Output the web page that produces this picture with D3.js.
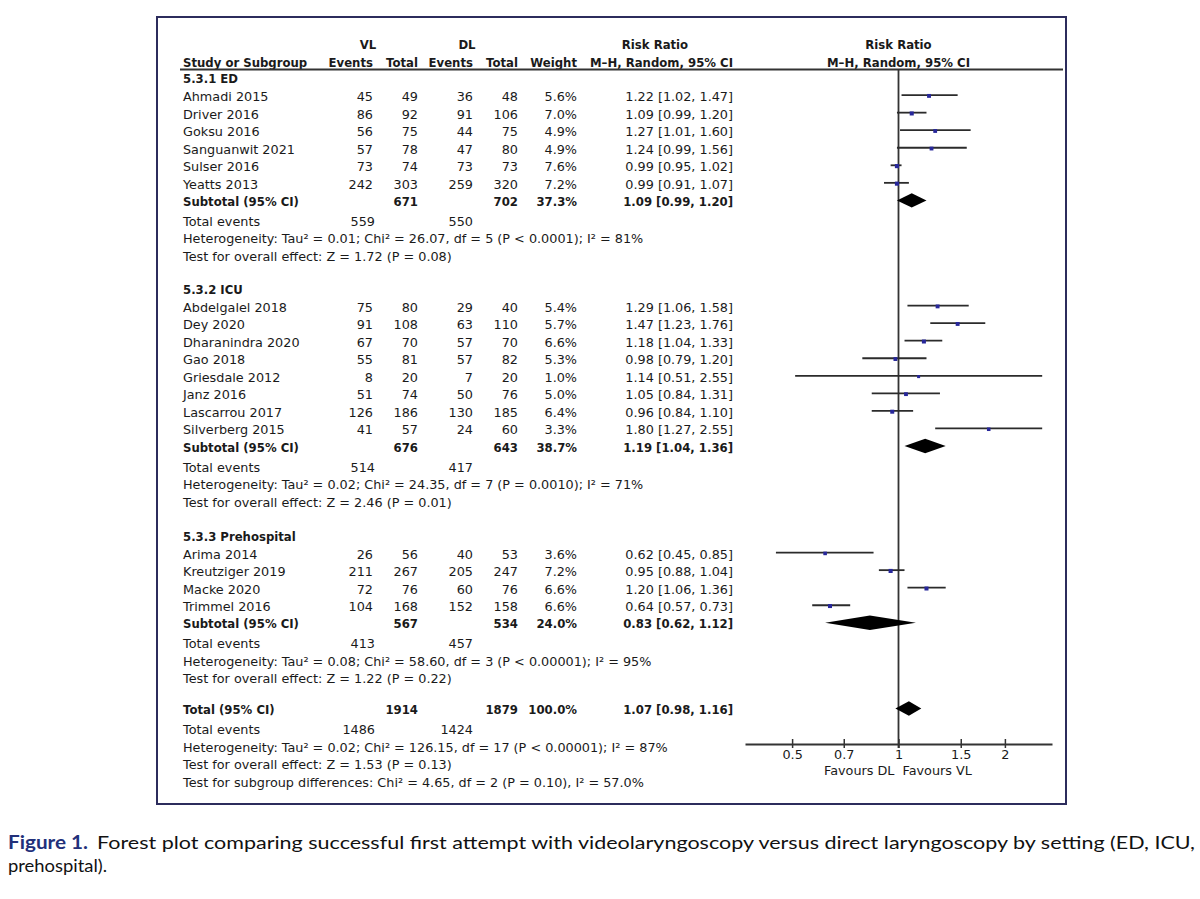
<!DOCTYPE html>
<html>
<head>
<meta charset="utf-8">
<script src="https://cdn.jsdelivr.net/npm/d3@7"></script>
<style>
  html, body { margin: 0; padding: 0; background: #fff; }
  svg { display: block; }
  .t { font-family: "DejaVu Sans", sans-serif; font-size: 12.8px; fill: #1a1a1a; }
  .b { font-weight: bold; font-size: 11.7px; }
</style>
</head>
<body>
<svg id="chart" width="1200" height="899"></svg>
<script>
// ---------------- DATA ----------------
const groupNames = ["5.3.1 ED", "5.3.2 ICU", "5.3.3 Prehospital"];
const studyNames = ["Ahmadi 2015","Driver 2016","Goksu 2016","Sanguanwit 2021","Sulser 2016","Yeatts 2013",
  "Abdelgalel 2018","Dey 2020","Dharanindra 2020","Gao 2018","Griesdale 2012","Janz 2016","Lascarrou 2017","Silverberg 2015",
  "Arima 2014","Kreutziger 2019","Macke 2020","Trimmel 2016"];
const studyGroup = [0,0,0,0,0,0, 1,1,1,1,1,1,1,1, 2,2,2,2];
const vlEvents = [45,86,56,57,73,242, 75,91,67,55,8,51,126,41, 26,211,72,104];
const vlTotal  = [49,92,75,78,74,303, 80,108,70,81,20,74,186,57, 56,267,76,168];
const dlEvents = [36,91,44,47,73,259, 29,63,57,57,7,50,130,24, 40,205,60,152];
const dlTotal  = [48,106,75,80,73,320, 40,110,70,82,20,76,185,60, 53,247,76,158];
const weights  = [5.6,7.0,4.9,4.9,7.6,7.2, 5.4,5.7,6.6,5.3,1.0,5.0,6.4,3.3, 3.6,7.2,6.6,6.6];
const rr       = [1.22,1.09,1.27,1.24,0.99,0.99, 1.29,1.47,1.18,0.98,1.14,1.05,0.96,1.80, 0.62,0.95,1.20,0.64];
const rrLo     = [1.02,0.99,1.01,0.99,0.95,0.91, 1.06,1.23,1.04,0.79,0.51,0.84,0.84,1.27, 0.45,0.88,1.06,0.57];
const rrHi     = [1.47,1.20,1.60,1.56,1.02,1.07, 1.58,1.76,1.33,1.20,2.55,1.31,1.10,2.55, 0.85,1.04,1.36,0.73];

const subVlTotal = [671, 676, 567];
const subDlTotal = [702, 643, 534];
const subWeight  = [37.3, 38.7, 24.0];
const subRR      = [1.09, 1.19, 0.83];
const subLo      = [0.99, 1.04, 0.62];
const subHi      = [1.20, 1.36, 1.12];
const subEvVL    = [559, 514, 413];
const subEvDL    = [550, 417, 457];
const subHetero  = [
  "Heterogeneity: Tau\u00B2 = 0.01; Chi\u00B2 = 26.07, df = 5 (P < 0.0001); I\u00B2 = 81%",
  "Heterogeneity: Tau\u00B2 = 0.02; Chi\u00B2 = 24.35, df = 7 (P = 0.0010); I\u00B2 = 71%",
  "Heterogeneity: Tau\u00B2 = 0.08; Chi\u00B2 = 58.60, df = 3 (P < 0.00001); I\u00B2 = 95%"];
const subTest = [
  "Test for overall effect: Z = 1.72 (P = 0.08)",
  "Test for overall effect: Z = 2.46 (P = 0.01)",
  "Test for overall effect: Z = 1.22 (P = 0.22)"];

const totalVlTotal = 1914, totalDlTotal = 1879, totalWeight = 100.0;
const totalRR = 1.07, totalLo = 0.98, totalHi = 1.16;
const totalEvVL = 1486, totalEvDL = 1424;
const totalNotes = [
  "Heterogeneity: Tau\u00B2 = 0.02; Chi\u00B2 = 126.15, df = 17 (P < 0.00001); I\u00B2 = 87%",
  "Test for overall effect: Z = 1.53 (P = 0.13)",
  "Test for subgroup differences: Chi\u00B2 = 4.65, df = 2 (P = 0.10), I\u00B2 = 57.0%"];

const tickValues = [0.5, 0.7, 1, 1.5, 2];
const tickLabels = ["0.5", "0.7", "1", "1.5", "2"];
const favourLeft = "Favours DL", favourRight = "Favours VL";
const captionBold = "Figure 1.";
const captionLine1 = "Forest plot comparing successful first attempt with videolaryngoscopy versus direct laryngoscopy by setting (ED, ICU,";
const captionLine2 = "prehospital).";

// ---------------- LAYOUT ----------------
const svg = d3.select("#chart");
const x = d3.scaleLog().domain([Math.exp(-1), Math.exp(1)]).range([745, 1052]);
const fmt2 = d3.format(".2f");
const fmtW = d => d3.format(".1f")(d) + "%";
const ciText = (m, l, h) => `${fmt2(m)} [${fmt2(l)}, ${fmt2(h)}]`;

const col = { name: 183, vlE: 373, vlT: 418, dlE: 473, dlT: 518, w: 577, ci: 733 };
const groupTop = [77.5, 288, 535];
const totalTop = 708.5;
const rowH = 17.55;
const textOff = 1.5;
const axisY = 744;

// frame
svg.append("rect").attr("x", 157).attr("y", 17).attr("width", 909).attr("height", 787)
  .attr("fill", "none").attr("stroke", "#2c2c5c").attr("stroke-width", 2);

function txt(xp, yp, s, anchor, bold) {
  return svg.append("text").attr("class", "t" + (bold ? " b" : ""))
    .attr("x", xp).attr("y", yp + textOff).attr("dominant-baseline", "central")
    .attr("text-anchor", anchor || "start").text(s);
}

// header
txt(368, 43, "VL", "middle", true);
txt(467, 43, "DL", "middle", true);
txt(655, 43, "Risk Ratio", "middle", true);
txt(x(1), 43, "Risk Ratio", "middle", true);
txt(col.name, 61, "Study or Subgroup", "start", true);
txt(col.vlE, 61, "Events", "end", true);
txt(col.vlT, 61, "Total", "end", true);
txt(col.dlE, 61, "Events", "end", true);
txt(col.dlT, 61, "Total", "end", true);
txt(col.w, 61, "Weight", "end", true);
txt(col.ci, 61, "M\u2013H, Random, 95% CI", "end", true);
txt(x(1), 61, "M\u2013H, Random, 95% CI", "middle", true);
svg.append("line").attr("x1", 180).attr("x2", 1063).attr("y1", 69.5).attr("y2", 69.5)
  .attr("stroke", "#333").attr("stroke-width", 1.8);

// vertical null line
svg.append("line").attr("x1", x(1)).attr("x2", x(1)).attr("y1", 69.5).attr("y2", axisY + 4)
  .attr("stroke", "#333").attr("stroke-width", 1.8);

const diamondH = 7.2;
function diamond(yc, m, l, h) {
  const pts = [[x(l), yc], [x(m), yc - diamondH], [x(h), yc], [x(m), yc + diamondH]];
  svg.append("path").attr("d", d3.line()(pts) + "Z").attr("fill", "#000");
}
const sizeScale = d3.scaleSqrt().domain([0, 10]).range([2.4, 4.4]);

groupNames.forEach((g, gi) => {
  let y = groupTop[gi];
  txt(col.name, y, g, "start", true);
  const idx = d3.range(studyNames.length).filter(i => studyGroup[i] === gi);
  idx.forEach((i, k) => {
    const yr = y + 17.6 + k * rowH;
    txt(col.name, yr, studyNames[i]);
    txt(col.vlE, yr, vlEvents[i], "end");
    txt(col.vlT, yr, vlTotal[i], "end");
    txt(col.dlE, yr, dlEvents[i], "end");
    txt(col.dlT, yr, dlTotal[i], "end");
    txt(col.w, yr, fmtW(weights[i]), "end");
    txt(col.ci, yr, ciText(rr[i], rrLo[i], rrHi[i]), "end");
    svg.append("line").attr("x1", x(rrLo[i])).attr("x2", x(rrHi[i])).attr("y1", yr).attr("y2", yr)
      .attr("stroke", "#2b2b2b").attr("stroke-width", 1.8);
    const s = sizeScale(weights[i]);
    svg.append("rect").attr("x", x(rr[i]) - s / 2).attr("y", yr + 0.8 - s / 2)
      .attr("width", s).attr("height", s).attr("fill", "#27279a");
  });
  const ys = y + 17.6 + idx.length * rowH;
  txt(col.name, ys, "Subtotal (95% CI)", "start", true);
  txt(col.vlT, ys, subVlTotal[gi], "end", true);
  txt(col.dlT, ys, subDlTotal[gi], "end", true);
  txt(col.w, ys, fmtW(subWeight[gi]), "end", true);
  txt(col.ci, ys, ciText(subRR[gi], subLo[gi], subHi[gi]), "end", true);
  diamond(ys, subRR[gi], subLo[gi], subHi[gi]);
  const yt = ys + 19.5;
  txt(col.name, yt, "Total events");
  txt(col.vlE + 2, yt, subEvVL[gi], "end");
  txt(col.dlE, yt, subEvDL[gi], "end");
  txt(col.name, yt + 17.5, subHetero[gi]);
  txt(col.name, yt + 35, subTest[gi]);
});

// overall
txt(col.name, totalTop, "Total (95% CI)", "start", true);
txt(col.vlT, totalTop, totalVlTotal, "end", true);
txt(col.dlT, totalTop, totalDlTotal, "end", true);
txt(col.w, totalTop, fmtW(totalWeight), "end", true);
txt(col.ci, totalTop, ciText(totalRR, totalLo, totalHi), "end", true);
diamond(totalTop, totalRR, totalLo, totalHi);
txt(col.name, totalTop + 19.5, "Total events");
txt(col.vlE + 2, totalTop + 19.5, totalEvVL, "end");
txt(col.dlE, totalTop + 19.5, totalEvDL, "end");
totalNotes.forEach((n, i) => txt(col.name, totalTop + 37 + i * 17.5, n));

// axis
const axis = d3.axisBottom(x).tickValues(tickValues)
  .tickFormat((d, i) => tickLabels[i]).tickSize(4).tickSizeOuter(0).tickPadding(2);
const ag = svg.append("g").attr("transform", `translate(0,${axisY})`).call(axis);
ag.select(".domain").attr("stroke", "#333").attr("stroke-width", 1.8);
ag.selectAll(".tick line").attr("y1", -5).attr("y2", 4).attr("stroke", "#333").attr("stroke-width", 1.5);
ag.selectAll(".tick text").attr("font-family", "DejaVu Sans, sans-serif").attr("font-size", "12.8px").attr("fill", "#1a1a1a");
txt(x(1) - 4, 769, favourLeft, "end");
txt(x(1) + 4, 769, favourRight, "start");

// caption
svg.append("text").attr("x", 8).attr("y", 849).attr("font-family", "Lato, sans-serif")
  .attr("font-size", "18px").attr("font-weight", "bold").attr("fill", "#22307a")
  .attr("textLength", 80).attr("lengthAdjust", "spacingAndGlyphs").text(captionBold);
svg.append("text").attr("x", 97).attr("y", 849).attr("font-family", "Lato, sans-serif")
  .attr("font-size", "18px").attr("fill", "#111")
  .attr("textLength", 1098).attr("lengthAdjust", "spacingAndGlyphs").text(captionLine1);
svg.append("text").attr("x", 8).attr("y", 872).attr("font-family", "Lato, sans-serif")
  .attr("font-size", "18px").attr("fill", "#111")
  .attr("textLength", 99).attr("lengthAdjust", "spacingAndGlyphs").text(captionLine2);
</script>
</body>
</html>
